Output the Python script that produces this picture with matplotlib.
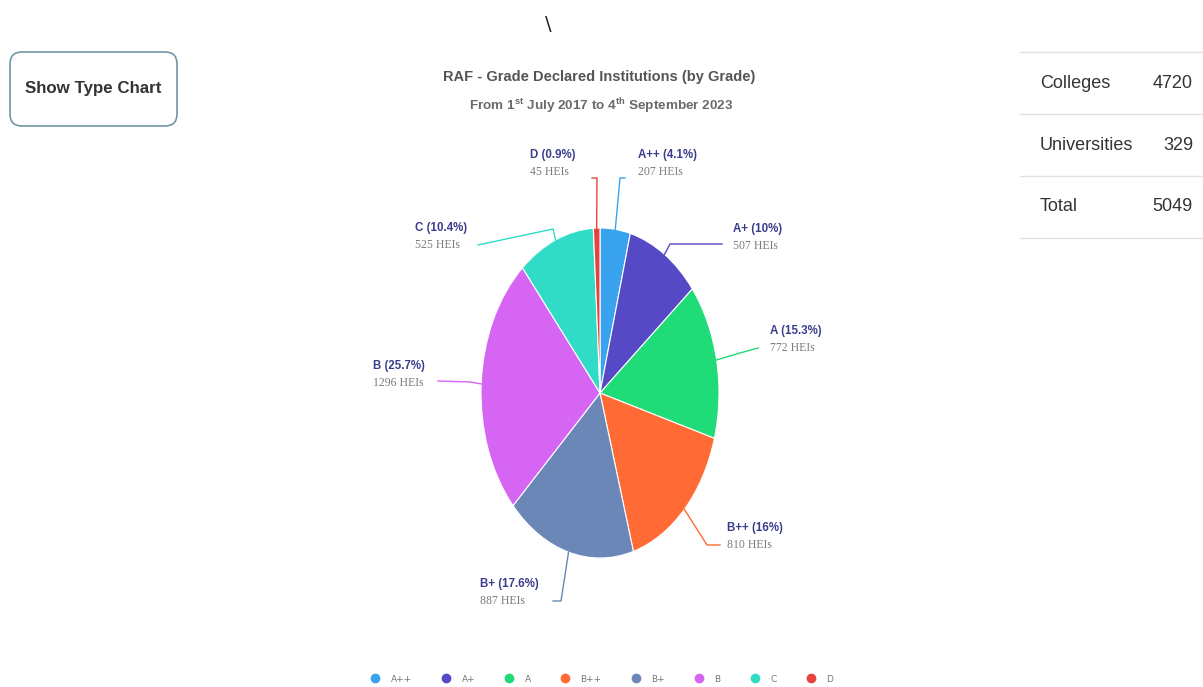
import matplotlib.pyplot as plt
import matplotlib.transforms as mtransforms
from matplotlib.patches import FancyBboxPatch
from matplotlib.lines import Line2D
import numpy as np

W, H = 1203, 687

grades = ['A++', 'A+', 'A', 'B++', 'B+', 'B', 'C', 'D']
heis = [207, 507, 772, 810, 887, 1296, 525, 45]
colors = ['#3aa3f0', '#5549c6', '#1fdb78', '#ff6a35', '#6a87b8', '#d665f4', '#30dcc6', '#e5443e']

table_rows = ['Colleges', 'Universities']
table_vals = [4720, 329]

SANS = ['Liberation Sans', 'DejaVu Sans']
SERIF = ['Liberation Serif', 'DejaVu Serif']

plt.rcParams['mathtext.fontset'] = 'custom'
plt.rcParams['mathtext.rm'] = 'Liberation Sans:bold'
plt.rcParams['mathtext.it'] = 'Liberation Sans:bold'


def fx(x):
    return x / W


def fy(y):
    return 1 - y / H


fig = plt.figure(figsize=(W / 100, H / 100), dpi=100)
fig.patch.set_facecolor('white')

# pie (ellipse on screen)
cx, cy, rx, ry = 600, 393, 119, 165
ax = fig.add_axes([fx(cx - rx), fy(cy + ry), 2 * rx / W, 2 * ry / H])
ax.pie(heis, colors=colors, startangle=90, counterclock=False, radius=1,
       wedgeprops=dict(edgecolor='white', linewidth=0.8))
ax.set_aspect('auto')
ax.set_xlim(-1, 1)
ax.set_ylim(-1, 1)
ax.axis('off')

total = sum(heis)
fracs = np.array(heis) / total
mids = (np.cumsum(fracs) - fracs / 2) * 2 * np.pi

# label layout in pixels: text left x, first line y, connector end, knee
layout = {
    'A++': (638, 155, (625, 178), (620, 178)),
    'A+': (733, 229, (722, 244), (670, 244)),
    'A': (770, 331, (758, 348), (740, 353)),
    'B++': (727, 528, (720, 545), (707, 545)),
    'B+': (480, 584, (553, 601), (561, 601)),
    'B': (373, 366, (438, 381), (470, 382)),
    'C': (415, 228, (478, 245), (553, 229)),
    'D': (530, 155, (592, 178), (597, 178)),
}


def to_data(p):
    return (p[0] - cx) / rx, (cy - p[1]) / ry


for g, v, c, th in zip(grades, heis, colors, mids):
    tx, ty, end, knee = layout[g]
    edge = (np.sin(th), np.cos(th))
    k = to_data(knee)
    e = to_data(end)
    ax.plot([edge[0], k[0], e[0]], [edge[1], k[1], e[1]], color=c, lw=1,
            clip_on=False)
    pct = f"{round(v / total * 100, 1):g}"
    fig.text(fx(tx), fy(ty), f"{g} ({pct}%)", family=SANS, weight='bold',
             fontsize=8.3, color='#3a3c8c', va='center', ha='left')
    fig.text(fx(tx), fy(ty + 17), f"{v} HEIs", family=SERIF, fontsize=8.5,
             color='#7a7a7a', va='center', ha='left')

# titles
fig.text(fx(599), fy(77), 'RAF - Grade Declared Institutions (by Grade)',
         family=SANS, weight='bold', fontsize=10.5, color='#555555',
         ha='center', va='center')
fig.text(fx(601), fy(106), r'From 1$^{st}$ July 2017 to 4$^{th}$ September 2023',
         family=SANS, weight='bold', fontsize=9.7, color='#6a6a6a',
         ha='center', va='center')
fig.text(fx(548), fy(24), '\\', family='DejaVu Sans', fontsize=14,
         color='#222222', ha='center', va='center')

# button
px = mtransforms.IdentityTransform()
btn = FancyBboxPatch((10, H - 126), 167, 74,
                     boxstyle='round,pad=0,rounding_size=12',
                     transform=px, facecolor='white', edgecolor='#6f97a6',
                     linewidth=1.2)
fig.patches.append(btn)
fig.text(fx(93), fy(89), 'Show Type Chart', family=SANS, weight='bold',
         fontsize=12.2, color='#333333', ha='center', va='center')

# table on right
rows = table_rows + ['Total']
vals = table_vals + [sum(table_vals)]
line_ys = [52, 114, 176, 238]
for y in line_ys:
    fig.add_artist(Line2D([fx(1020), fx(1203)], [fy(y), fy(y)],
                          transform=fig.transFigure, color='#e2e2e2', lw=1))
for i, (r, v) in enumerate(zip(rows, vals)):
    yy = (line_ys[i] + line_ys[i + 1]) / 2
    fig.text(fx(1040), fy(yy), r, family=SANS, fontsize=13,
             color='#333333', ha='left', va='center')
    fig.text(fx(1193), fy(yy), str(v), family=SANS, fontsize=13,
             color='#333333', ha='right', va='center')

# legend
handles = [Line2D([], [], marker='o', ls='none', color=c, markersize=6)
           for c in colors]
fig.legend(handles, grades, loc='center', bbox_to_anchor=(fx(602), fy(679)),
           ncol=8, frameon=False, fontsize=6.5, labelcolor='#777777',
           handlelength=1, handletextpad=1.2, columnspacing=3.3)

plt.savefig('out.png', dpi=100)
plt.close('all')
